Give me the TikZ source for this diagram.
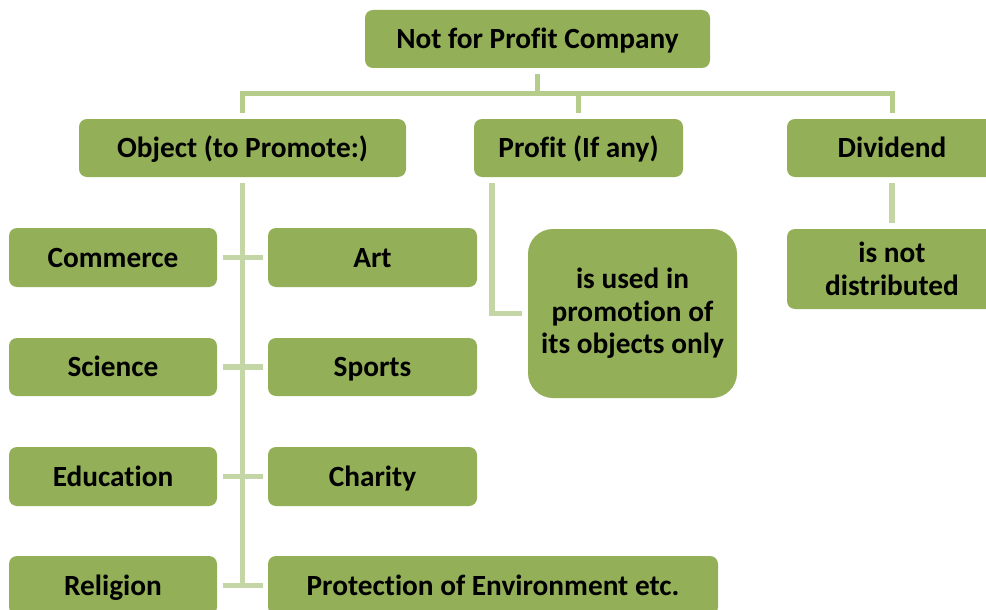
\documentclass[tikz,border=0pt]{standalone}
\usepackage{fontspec}
\setmainfont[Ligatures=NoCommon]{Carlito}
\definecolor{boxgreen}{HTML}{93AF57}
\definecolor{busgreen}{HTML}{B6CC8B}
\definecolor{linegreen}{HTML}{C4D5A6}
\begin{document}
\begin{tikzpicture}[x=1pt,y=-1pt,
  box/.style={draw=none,fill=boxgreen,rounded corners=8pt,inner sep=0pt,
    font=\fontsize{29.3}{32.5}\selectfont\bfseries,text=black,align=center},
  one/.style={box,text height=24pt,text depth=5pt},
  bus/.style={draw=busgreen,line width=5pt},
  conn/.style={draw=linegreen,line width=5.5pt}]
\useasboundingbox (0,0) rectangle (986,610);
\clip (0,0) rectangle (986,610);
\fill[white] (0,0) rectangle (986,610);
% nodes
\node[one,minimum width=345pt,minimum height=58pt] (top) at (537.5,39) {Not for Profit Company};
\node[one,minimum width=327pt,minimum height=58pt] (obj) at (242.5,148) {Object (to Promote:)};
\node[one,minimum width=209pt,minimum height=58pt] (prof) at (578.5,148) {Profit (If any)};
\node[one,minimum width=210pt,minimum height=58pt] (div) at (892,148) {Dividend};
\node[one,minimum width=208pt,minimum height=59pt] (commerce) at (113,257.5) {Commerce};
\node[one,minimum width=209pt,minimum height=59pt] (art) at (372.5,257.5) {Art};
\node[one,minimum width=208pt,minimum height=58pt] (science) at (113,367) {Science};
\node[one,minimum width=209pt,minimum height=58pt] (sports) at (372.5,367) {Sports};
\node[one,minimum width=208pt,minimum height=59pt] (education) at (113,476.5) {Education};
\node[one,minimum width=209pt,minimum height=59pt] (charity) at (372.5,476.5) {Charity};
\node[one,minimum width=208pt,minimum height=59pt] (religion) at (113,585.5) {Religion};
\node[one,minimum width=450pt,minimum height=59pt] (protect) at (493,585.5) {Protection of Environment etc.};
\node[box,rounded corners=25pt,minimum width=209pt,minimum height=169pt] (used) at (632.5,313.5) {is used in\\promotion of\\its objects only};
\node[box,minimum width=210pt,minimum height=80pt] (notdist) at (892,269) {is not\\distributed};
% top connectors
\draw[bus] ([yshift=-6pt]top.south) -- ([yshift=-26pt]top.south);
\draw[bus] ([yshift=6pt]obj.north) -- ([yshift=25pt]obj.north) -| ([yshift=6pt]div.north);
\draw[bus] ([yshift=25pt]prof.north) -- ([yshift=6pt]prof.north);
% object branch
\draw[conn] ([yshift=-6pt]obj.south) -- (obj.south |- religion.east);
\draw[conn] ([xshift=6pt]commerce.east) -- ([xshift=-5pt]art.west);
\draw[conn] ([xshift=6pt]science.east) -- ([xshift=-5pt]sports.west);
\draw[conn] ([xshift=6pt]education.east) -- ([xshift=-5pt]charity.west);
\draw[conn] ([xshift=6pt]religion.east) -- ([xshift=-5pt]protect.west);
% profit branch
\draw[conn] ([xshift=18pt,yshift=-6pt]prof.south west) |- ([xshift=-6pt]used.west);
% dividend branch
\draw[conn] ([yshift=-6pt]div.south) -- ([yshift=6pt]notdist.north);
\end{tikzpicture}
\end{document}
